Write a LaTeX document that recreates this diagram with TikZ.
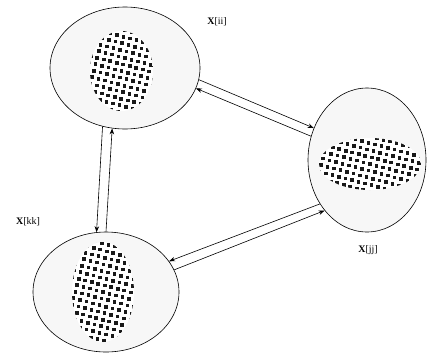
\documentclass[tikz,border=0pt]{standalone}
\usepackage{fontspec}
\setmainfont{Liberation Serif}
\usetikzlibrary{arrows.meta,shapes.geometric}
\tikzset{
 blob/.style={ellipse,draw,fill=black!3,inner sep=0pt,line width=0.6pt},
 conn/.style={line width=0.6pt,-{Stealth[length=6pt,width=4.5pt]}},
 lbl/.style={font=\fontsize{10}{12}\selectfont,inner sep=0pt}
}
\newcommand\dotpatch[4]{%
 \begin{scope}
 \clip (#1,#2) ellipse [x radius=#3, y radius=#4];
 \fill[white] (#1,#2) ellipse [x radius=#3, y radius=#4];
 \foreach \j in {-10,...,10}{
   \foreach \i in {-10,...,10}{
     \pgfmathsetmacro\px{#1+\i*6.5-\j*1.7}
     \pgfmathsetmacro\py{#2+\i*1.7+\j*6.5}
     \fill[black!90] (\px-1.8,\py-1.8) rectangle ++(3.6,3.6);
   }}
 \end{scope}}
\begin{document}
\begin{tikzpicture}[x=1pt,y=-1pt]
\useasboundingbox (0,0) rectangle (427,353);
\node[blob,minimum width=150pt,minimum height=122pt] (ii) at (125,68) {};
\node[blob,minimum width=118pt,minimum height=144pt] (jj) at (367,160) {};
\node[blob,minimum width=146pt,minimum height=120pt] (kk) at (106,292) {};
\dotpatch{121.5}{71}{31.5}{40}
\dotpatch{370}{164}{51}{26}
\dotpatch{103}{292}{31}{50}
\node[lbl] (lii) at (217,22) {\textbf{X}[ii]};
\node[lbl] (ljj) at (368,250) {\textbf{X}[jj]};
\node[lbl] (lkk) at (28,222) {\textbf{X}[kk]};
\draw[conn] (ii.-9.2) -- (jj.149);
\draw[conn] (jj.157.2) -- (ii.-16.9);
\draw[conn] (jj.223.8) -- (kk.26.2);
\draw[conn] (kk.18.9) -- (jj.230.6);
\draw[conn] (ii.249.6) -- (kk.99.3);
\draw[conn] (kk.90.9) -- (ii.258.7);
\end{tikzpicture}
\end{document}
